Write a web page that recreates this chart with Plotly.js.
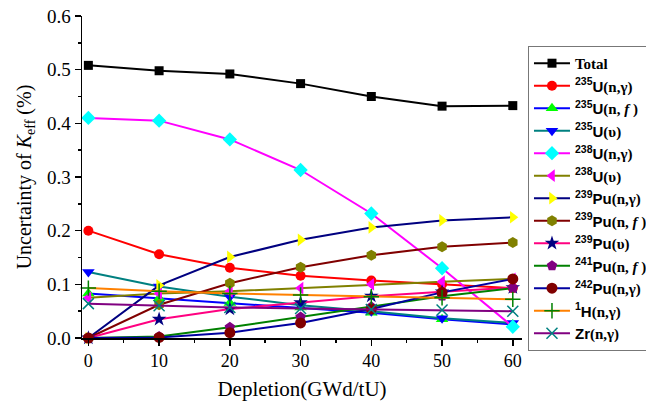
<!DOCTYPE html>
<html><head><meta charset="utf-8">
<script src="https://cdn.plot.ly/plotly-3.0.1.min.js"></script>
<style>html,body{margin:0;padding:0;background:#fff}#chart{width:646px;height:408px}</style>
</head><body><div id="chart"></div>
<script>
const depletion = [0, 10, 20, 30, 40, 50, 60];
const total      = [0.508, 0.498, 0.492, 0.474, 0.450, 0.432, 0.433];
const u235ng     = [0.200, 0.156, 0.131, 0.116, 0.107, 0.100, 0.093];
const u235nf     = [0.083, 0.074, 0.065, 0.057, 0.047, 0.035, 0.025];
const u235nu     = [0.123, 0.096, 0.077, 0.061, 0.050, 0.037, 0.028];
const u238ng     = [0.410, 0.405, 0.370, 0.313, 0.232, 0.130, 0.021];
const u238nu     = [0.075, 0.083, 0.087, 0.093, 0.100, 0.105, 0.110];
const pu239ng    = [0.000, 0.098, 0.151, 0.183, 0.206, 0.219, 0.225];
const pu239nf    = [0.000, 0.062, 0.102, 0.132, 0.154, 0.170, 0.178];
const pu239nu    = [0.000, 0.035, 0.054, 0.066, 0.078, 0.086, 0.094];
const pu241nf    = [0.000, 0.003, 0.020, 0.039, 0.058, 0.078, 0.093];
const pu242ng    = [0.000, 0.001, 0.010, 0.028, 0.054, 0.085, 0.110];
const h1ng       = [0.093, 0.087, 0.083, 0.080, 0.077, 0.075, 0.072];
const zrng       = [0.064, 0.060, 0.057, 0.055, 0.053, 0.052, 0.050];

const S = '<span style="font-family:Liberation Serif,serif;font-weight:bold">';
const names = [
  S+'Total</span>',
  '<sup>235</sup>U'+S+'(n,γ)</span>',
  '<sup>235</sup>U'+S+'(n, <i>f</i> )</span>',
  '<sup>235</sup>U'+S+'(υ)</span>',
  '<sup>238</sup>U'+S+'(n,γ)</span>',
  '<sup>238</sup>U'+S+'(υ)</span>',
  '<sup>239</sup>Pu'+S+'(n,γ)</span>',
  '<sup>239</sup>Pu'+S+'(n, <i>f</i> )</span>',
  '<sup>239</sup>Pu'+S+'(υ)</span>',
  '<sup>241</sup>Pu'+S+'(n, <i>f</i> )</span>',
  '<sup>242</sup>Pu'+S+'(n,γ)</span>',
  '<sup>1</sup>H'+S+'(n,γ)</span>',
  'Zr'+S+'(n,γ)</span>'
];
const series = [total,u235ng,u235nf,u235nu,u238ng,u238nu,pu239ng,pu239nf,pu239nu,pu241nf,pu242ng,h1ng,zrng];
const lineColors = ['#000000','#ff0000','#0000ff','#008080','#ff00ff','#808000','#000080','#800000','#ff0080','#008000','#0000a0','#ff8000','#800080'];
const markColors = ['#000000','#ff0000','#00ff00','#0000ff','#00ffff','#ff00ff','#ffff00','#808000','#000080','#800080','#800000','#008000','#008080'];
const symbols = ['square','circle','triangle-up','triangle-down','diamond','triangle-left','triangle-right','hexagon','star','pentagon','circle','cross-thin','x-thin'];
const sizes = [9,10,11,11,11,11,11,11,11,11,11,11,11];

const traces = series.map((ys,i)=>{
  const thin = symbols[i].endsWith('thin');
  return {
    x: depletion, y: ys, name: names[i], type:'scatter', mode:'lines+markers',
    cliponaxis:false,
    line:{color:lineColors[i], width:2},
    marker:{symbol:symbols[i], size:sizes[i], color:markColors[i],
            line: thin ? {color:markColors[i], width:1.5} : {width:0}}
  };
});

const layout = {
  width:646, height:408,
  margin:{l:82, r:124, t:16, b:70, autoexpand:false},
  paper_bgcolor:'#fff', plot_bgcolor:'#fff',
  showlegend:true,
  legend:{x:1.0136, y:0.907, xanchor:'left', yanchor:'top',
          bordercolor:'#777', borderwidth:1, bgcolor:'#fff',
          font:{family:'Liberation Sans', size:15, color:'#000', weight:'bold'},
          tracegroupgap:0, itemwidth:36},
  xaxis:{range:[-0.9,61.3], tick0:0, dtick:10, showgrid:false, zeroline:false,
         showline:true, linecolor:'#000', linewidth:1.5,
         ticks:'outside', ticklen:6, tickwidth:1.5, tickcolor:'#000',
         minor:{dtick:5, ticks:'outside', ticklen:3, tickwidth:1.5, tickcolor:'#000'},
         tickfont:{family:'Liberation Serif', size:18, color:'#000'},
         title:{text:'Depletion(GWd/tU)', font:{family:'Liberation Serif', size:21, color:'#000'}, standoff:11}},
  yaxis:{range:[0,0.6], tick0:0, dtick:0.1, tickformat:'.1f', showgrid:false, zeroline:false,
         showline:true, linecolor:'#000', linewidth:1.5,
         ticks:'outside', ticklen:6, tickwidth:1.5, tickcolor:'#000',
         minor:{dtick:0.05, ticks:'outside', ticklen:3, tickwidth:1.5, tickcolor:'#000'},
         tickfont:{family:'Liberation Serif', size:19, color:'#000'},
         title:{text:'Uncertainty of <i>K</i><sub>eff</sub> (%)', font:{family:'Liberation Serif', size:20, color:'#000'}, standoff:10}}
};
Plotly.newPlot('chart', traces, layout, {displayModeBar:false, staticPlot:true});
</script></body></html>
